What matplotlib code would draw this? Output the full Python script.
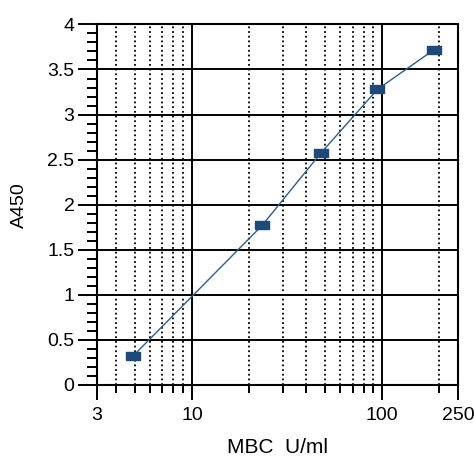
import matplotlib
matplotlib.use("Agg")
from matplotlib import pyplot as plt
from matplotlib.path import Path
from matplotlib.ticker import FixedLocator, NullFormatter
import numpy as np

plt.rcParams['font.family'] = ['Liberation Sans', 'DejaVu Sans']

# data
conc = [4.9, 23.4, 47.5, 94.5, 187.5]
a450 = [0.32, 1.77, 2.57, 3.28, 3.72]

x_left = 3.16   # axis starts a bit above 3 in the original, labelled "3"
x_major = [x_left, 10, 100, 250]
x_labels = ['3', '10', '100', '250']
x_minor = [4, 5, 6, 7, 8, 9, 20, 30, 40, 50, 60, 70, 80, 90, 200]
y_major = [0, 0.5, 1, 1.5, 2, 2.5, 3, 3.5, 4]
y_labels = ['0', '0.5', '1', '1.5', '2', '2.5', '3', '3.5', '4']

fig = plt.figure(figsize=(4.74, 4.61), dpi=100)
ax = fig.add_axes([0.204, 0.165, 0.762, 0.782])

# rectangle marker, wider than tall
rect = Path([(-1, -0.55), (1, -0.55), (1, 0.55), (-1, 0.55), (-1, -0.55)])
ax.plot(conc, a450, color='#2f5d86', lw=1.0, marker=rect, markersize=10,
        markerfacecolor='#1f4a78', markeredgecolor='#1f4a78', zorder=5)

ax.set_xscale('log')
ax.set_xlim(x_left, 250)
ax.set_ylim(0, 4)

ax.xaxis.set_major_locator(FixedLocator(x_major))
ax.set_xticklabels(x_labels)
ax.xaxis.set_minor_locator(FixedLocator(x_minor))
ax.xaxis.set_minor_formatter(NullFormatter())
ax.set_yticks(y_major)
ax.set_yticklabels(y_labels)
ax.yaxis.set_minor_locator(FixedLocator(np.arange(0, 4.01, 0.1)))

# grid
for y in y_major:
    ax.axhline(y, color='black', lw=1.4, zorder=1)
for x in [10, 100]:
    ax.axvline(x, color='black', lw=1.4, zorder=1)
for x in x_minor:
    ax.axvline(x, color='black', lw=1.3, ls=(0, (1, 1.6)), zorder=1)

ax.tick_params(axis='y', which='major', length=14, width=1.4, labelsize=14, pad=2)
ax.tick_params(axis='y', which='minor', length=7, width=1.4)
ax.tick_params(axis='x', which='major', length=11, width=1.4, labelsize=14, pad=5)
ax.tick_params(axis='x', which='minor', length=6, width=1.4)
for s in ax.spines.values():
    s.set_linewidth(1.5)

ax.set_xlabel('MBC  U/ml', fontsize=15, labelpad=10)
ax.set_ylabel('A450', fontsize=14, labelpad=14)

fig.savefig('out.png', dpi=100)
